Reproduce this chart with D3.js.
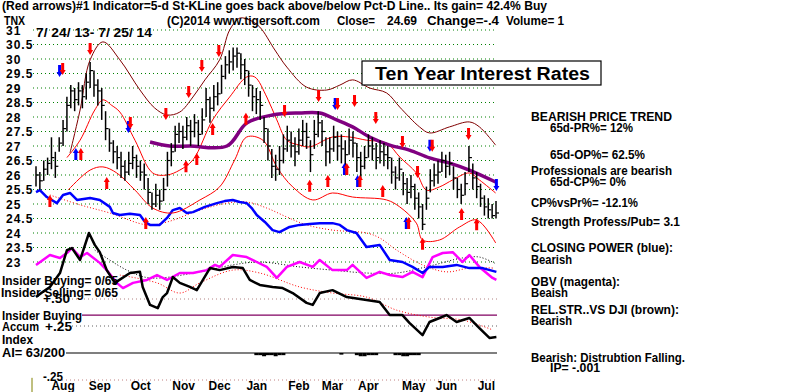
<!DOCTYPE html>
<html>
<head>
<meta charset="utf-8">
<script src="https://cdn.jsdelivr.net/npm/d3@7"></script>
<style>
body { margin: 0; background: #fff; }
text { font-family: "Liberation Sans", Arial, sans-serif; font-weight: bold; font-size: 12px; fill: #000; }
</style>
</head>
<body>
<div id="chart"></div>
<script>
// daily-ish price bars, [high, low, close]
const priceBars = [
  [26.3,25.6,26.0],[26.1,25.5,25.8],[26.5,25.8,26.2],[26.6,26.0,26.4],[27.3,26.2,26.6],
  [26.8,25.9,26.3],[27.3,26.8,27.1],[27.9,27.0,27.6],[28.7,27.5,28.4],[29.1,28.3,28.9],
  [29.0,28.2,28.6],[29.2,28.4,28.9],[29.1,28.3,28.7],[29.5,28.6,29.2],[29.9,29.0,29.6],
  [29.6,28.7,29.1],[29.3,28.4,28.9],[29.0,27.9,28.4],[28.2,27.2,27.6],[27.6,26.8,27.1],
  [27.2,26.4,26.8],[27.0,26.2,26.6],[26.8,25.9,26.3],[26.5,25.8,26.1],[26.8,26.0,26.4],
  [27.0,26.2,26.6],[26.7,25.9,26.3],[26.5,25.8,26.1],[26.4,25.5,26.0],[25.9,25.0,25.4],
  [25.4,24.8,25.0],[25.7,24.9,25.3],[25.5,24.8,25.1],[25.9,25.1,25.5],[26.8,25.6,26.5],
  [27.1,26.3,26.8],[27.7,26.8,27.4],[27.8,27.1,27.5],[27.7,26.9,27.3],[28.0,27.2,27.7],
  [27.9,27.0,27.5],[28.1,27.3,27.8],[27.9,27.0,27.4],[28.3,27.4,27.9],[29.0,28.0,28.6],
  [28.7,27.8,28.3],[29.1,28.2,28.7],[29.2,28.4,28.8],[29.8,28.8,29.4],[30.1,29.3,29.8],
  [30.3,29.5,29.9],[30.4,29.6,30.1],[30.4,29.7,30.2],[30.2,29.3,29.8],[30.0,29.1,29.6],
  [29.6,28.7,29.1],[29.1,28.2,28.7],[29.0,28.1,28.6],[28.9,27.9,28.4],[28.0,27.1,27.6],
  [27.6,26.5,27.0],[26.9,25.9,26.3],[26.7,25.8,26.2],[27.0,26.0,26.5],[27.4,26.4,26.9],
  [27.7,26.8,27.2],[27.5,26.6,27.0],[27.3,26.3,26.8],[27.6,26.7,27.2],[27.9,27.0,27.5],
  [27.8,26.9,27.3],[27.2,26.1,26.7],[27.9,26.9,27.4],[28.2,27.3,27.8],[27.9,27.0,27.5],
  [27.3,26.3,26.8],[27.3,26.4,26.9],[27.7,26.8,27.3],[27.5,26.5,27.0],[27.4,26.4,26.9],
  [27.2,26.2,26.7],[27.6,26.7,27.2],[27.5,26.6,27.1],[27.1,26.1,26.6],[26.8,25.9,26.3],
  [27.0,26.2,26.6],[27.4,26.6,27.0],[27.3,26.5,26.9],[27.1,26.2,26.6],[27.2,26.4,26.8],
  [27.1,26.3,26.7],[27.0,26.2,26.6],[26.6,25.7,26.1],[26.3,25.5,25.9],[26.6,25.8,26.2],
  [26.1,25.3,25.7],[25.9,25.0,25.4],[26.0,25.2,25.6],[25.7,24.8,25.2],[25.4,24.5,24.9],
  [25.0,24.1,24.3],[25.6,24.8,25.2],[26.2,25.4,25.8],[26.4,25.6,26.0],[26.5,25.7,26.1],
  [26.8,26.1,26.5],[26.7,25.9,26.3],[26.8,26.0,26.4],[26.3,25.5,25.9],[25.9,25.2,25.5],
  [25.7,25.0,25.3],[26.1,25.3,25.7],[27.0,26.1,26.6],[26.4,25.5,25.9],[26.1,25.2,25.6],
  [25.7,24.9,25.2],[25.3,24.6,24.9],[25.2,24.5,24.8],[25.0,24.5,24.6],[25.1,24.5,24.69]
];

const gridLevels = d3.range(23, 31.01, 0.5);

// bands, [bar index, level]
const upperOuter = [[8.8,26.76],[11.4,28.24],[14,29.97],[17.3,30.59],[21.7,29.97],[26.9,28.93],[30.7,28.31],
  [33.9,28.07],[37.2,28.17],[40.6,28.69],[43.7,29.28],[47.5,29.97],[50.1,31.0],[52.7,31.41],[55.3,31.34],
  [57.9,31.1],[61.8,30.31],[64.9,29.72],[70,29.03],[75.2,28.93],[78.6,29.1],[81.9,29.28],[86.3,29.0],
  [90.7,28.83],[94.1,28.34],[99.2,27.66],[101.8,27.45],[107,27.66],[112.1,27.83],[114.7,27.66],[118.9,27.03]];
const upperInner = [[8,26.6],[11.4,27.2],[15.2,28.24],[17.3,28.59],[19.6,28.4],[21.7,28.17],[25.6,27.2],
  [30.2,26.07],[33.9,26.0],[37.2,26.17],[40.6,26.52],[45.7,27.9],[50.1,28.69],[54.5,29.38],[56.6,29.38],
  [59.7,28.69],[62.3,27.9],[64.9,27.2],[68.2,27.03],[70.8,26.97],[76.7,27.31],[81.1,27.31],[85.5,27.2],
  [90.7,27.1],[94.1,26.62],[98.4,26.07],[101,25.48],[104.4,25.59],[107.8,25.83],[112.1,26.07],[114.7,25.83],[118.9,25.38]];
const lowerBand = [[8.3,25.48],[14,26.17],[17.3,26.28],[20.9,26.07],[25.6,25.48],[30.2,24.86],[35.4,24.69],
  [42.4,25.14],[47.5,25.59],[51.4,26.52],[54.5,27.31],[58.7,27.2],[62.3,26.28],[66.4,25.59],[71.6,25.14],
  [76.7,25.38],[81.9,25.24],[90.7,25.14],[94.1,24.9],[98.4,24.34],[100,23.76],[104.4,23.76],[109.6,24.21],
  [114,24.45],[118.9,23.66]];
const movingAvg = [[29.5,27.14],[34.6,27.0],[39.8,27.0],[49.4,27.0],[54.5,27.79],[61.2,28.07],[68.2,28.14],
  [73.4,28.14],[77.8,27.9],[81.9,27.66],[86.3,27.31],[91.5,27.03],[96.6,26.86],[101.8,26.59],[107,26.41],
  [112.1,26.17],[118.9,25.76]];

// indicators drawn in price-axis units
const closingPower = [[0,25.41],[1,25.48],[2.8,25.24],[5.4,25.03],[7,25.31],[8.8,25.38],[10.6,25.14],[14,25.21],
  [16.5,25.14],[19.1,24.9],[19.9,24.69],[21.7,24.62],[24.3,24.66],[26.9,24.62],[28.2,24.38],[29.5,24.28],
  [32,24.28],[33.9,24.52],[35.4,24.79],[37.2,24.86],[39,24.69],[40.6,24.72],[43.7,24.9],[46.8,25.03],
  [48.8,25.1],[50.9,25.14],[52.7,25.07],[54.5,25.03],[55.8,24.86],[57.1,24.62],[59.2,24.38],[61.2,24.1],
  [63,24.03],[65.6,24.21],[68.2,24.28],[70.8,24.31],[73.4,24.34],[76.7,24.34],[78.6,24.28],[80.4,24.1],
  [82.9,24.0],[85.5,23.52],[88.9,23.59],[91.5,23.07],[94.8,23.0],[97.4,22.83],[100,22.62],[101.8,22.83],
  [105.2,22.83],[108.8,22.9],[112.1,22.79],[115.5,22.79],[119.1,22.66]];
const cpAvg = [[3.6,25.31],[11.4,24.97],[19.1,24.69],[28.7,24.28],[33.9,24.38],[42.4,24.79],[49.4,25.03],
  [54.5,25.07],[59.7,24.86],[64.9,24.55],[70,24.28],[76.7,24.1],[85.5,24.0],[88.9,23.83],[93.3,23.41],
  [100,22.9],[106.2,22.66],[112.1,22.79],[118.6,22.79]];
const obv = [[0,22.9],[1.8,23.07],[3.6,23.24],[6.2,23.14],[8,23.31],[9.3,23.48],[11.4,23.17],[13.2,23.31],
  [16.5,22.97],[18.3,22.72],[20.9,22.28],[22.5,22.1],[25.1,22.28],[28.7,22.38],[31.3,22.55],[33.9,22.38],
  [37.2,22.62],[40.6,22.62],[44.2,22.72],[46.3,22.9],[47.5,22.83],[50.9,23.24],[54.5,23.17],[57.1,23.0],
  [59.7,22.83],[62.3,22.45],[64.9,22.83],[68.2,23.0],[71.6,22.83],[73.4,23.07],[76.7,22.72],[80.4,22.72],
  [81.9,22.9],[85.5,22.45],[88.9,22.66],[91.5,22.55],[94.8,22.48],[97.4,22.66],[100,22.48],[102.6,23.17],
  [105.2,23.31],[107.8,23.34],[110.3,23.0],[112.1,23.24],[114.7,22.83],[118.1,22.45],[119.1,22.38]];
const obvAvg = [[15.2,23.41],[23.5,22.72],[29.5,22.45],[42.4,22.66],[50.9,22.9],[57.9,23.0],[68.2,22.83],
  [76.7,22.72],[85.5,22.62],[93.3,22.62],[101.8,22.86],[110.3,23.14],[114.7,23.17],[119.1,22.93]];
const relStrength = [[0,21.79],[1.8,21.97],[3.6,22.14],[6.2,22.62],[8,23.41],[9.3,23.48],[11.4,23.07],[13.7,24.0],
  [15.2,23.59],[16.5,23.34],[18.3,22.72],[20.4,22.28],[24.3,22.62],[26.9,22.66],[27.6,22.14],[29.5,21.52],
  [31.5,21.41],[32.8,21.79],[33.9,21.93],[35.4,22.48],[37.2,22.28],[39.8,22.14],[41.6,22.03],[45,22.79],
  [47.5,22.72],[50.9,22.83],[53.5,22.79],[55.3,22.38],[57.9,22.21],[61.2,22.14],[63.8,22.1],[66.4,21.93],
  [70,21.59],[71.6,21.52],[73.4,21.93],[76.7,22.03],[80.4,21.79],[85.5,21.69],[88.9,21.62],[91.5,21.17],
  [94.8,21.17],[96.6,20.9],[100,20.48],[101.8,20.93],[104.4,21.07],[106.2,21.17],[108.8,20.93],[112.1,21.07],
  [114.7,20.72],[117.3,20.38],[119.1,20.41]];
const rsAvg = [[21.7,22.55],[31.3,22.28],[37.2,21.93],[42.4,22.28],[50.9,22.72],[57.9,22.62],[68.2,22.14],
  [76.7,21.93],[85.5,21.79],[93.3,21.34],[101.8,21.1],[110.3,21.0],[118.1,20.66]];

// signal arrows, [bar index, level]
const sellArrows = [[6.9,29.62],[14,30.31],[24.4,27.76],[33.6,28.07],[39.5,28.83],[42.9,29.72],[47.3,30.24],
  [64.3,28.17],[73.1,28.69],[78,28.41],[82.4,28.52],[87.9,27.93],[94.8,27.1],[98.7,26.07],[102.5,26.97],[111.9,27.38]];
const blueSells = [[6.1,29.55],[23.9,27.62],[77.4,28.41],[101.9,26.97],[119.1,25.62]];
const buyArrows = [[3.6,25.14],[11.6,26.76],[18.3,25.76],[28.4,24.38],[38.8,26.34],[41.6,26.59],[45.7,27.62],
  [54.3,27.97],[70.8,25.66],[75.5,25.83],[80.4,26.24],[83.8,25.83],[89.7,25.48],[96.4,24.38],[100,23.66],
  [110.1,24.69],[114,24.34]];
const blueBuys = [[10.3,26.76],[79.8,26.24],[83.2,25.83],[95.8,24.38]];

// accumulation index panel
const aiLevels = [0.5, 0.25, 0, -0.25];
const insiderLevel = 0.35;
const aiDays = [57,58,59,60,61,62,63,64,79,83,84,85,86,87,88,93,94,95,96,97,98,99];
const aiVals = [-0.02,-0.02,-0.03,-0.02,-0.02,-0.03,-0.02,-0.02,-0.015,-0.02,-0.03,-0.03,-0.02,-0.02,-0.02,
  -0.02,-0.02,-0.03,-0.03,-0.02,-0.02,-0.02];

const monthNames = ["Aug","Sep","Oct","Nov","Dec","Jan","Feb","Mar","Apr","May","Jun","Jul"];
const monthPos = [7.0,16.5,27.1,38.2,47.5,57.1,68.0,76.7,86.0,97.7,106.2,116.5];

const sidePanel = [
  ["BEARISH PRICE TREND", 531, 121, 141],
  ["65d-PR%= 12%", 550, 132, 83],
  ["65d-OP%= 62.5%", 550, 159, 95],
  ["Professionals are bearish", 531, 175, 141],
  ["65d-CP%= 0%", 550, 186, 76],
  ["CP%vsPr%= -12.1%", 531, 207, 107],
  ["Strength Profess/Pub= 3.1", 531, 226, 149],
  ["CLOSING POWER (blue):", 531, 252, 142],
  ["Bearish", 531, 264, 41],
  ["OBV (magenta):", 531, 286, 89],
  ["Beaish", 531, 297, 37],
  ["REL.STR..VS DJI (brown):", 531, 314, 148],
  ["Bearish", 531, 325, 41],
  ["Bearish: Distrubtion Falling.", 531, 362, 154],
  ["IP= -.001", 550, 372, 50]
];

const width = 800, height = 392;
const svg = d3.select("#chart").append("svg")
    .attr("width", width)
    .attr("height", height);

const x = d3.scaleLinear().domain([0, priceBars.length - 1]).range([36, 496]);
const y = d3.scaleLinear().domain([23, 31]).range([262, 30]);
const yAI = d3.scaleLinear().domain([-0.25, 0.5]).range([380, 299]);

function label(t, tx, ty, w) {
    const el = svg.append("text").attr("x", tx).attr("y", ty).text(t);
    if (w) el.attr("textLength", w).attr("lengthAdjust", "spacingAndGlyphs");
    return el;
}

// green dotted grid
svg.append("g")
    .selectAll("line")
    .data(gridLevels)
    .join("line")
    .attr("x1", 33).attr("x2", 497)
    .attr("y1", d => y(d)).attr("y2", d => y(d))
    .attr("stroke", "#008000")
    .attr("stroke-dasharray", "1,3");

// price axis labels
svg.append("g")
    .selectAll("text")
    .data(gridLevels)
    .join("text")
    .attr("x", 6)
    .attr("y", d => y(d) + 4.5)
    .style("letter-spacing", "1px")
    .text(d => d % 1 === 0 ? d : d.toFixed(1));

// AI panel reference lines
svg.append("line")
    .attr("x1", 72).attr("x2", 497).attr("y1", yAI(0.5)).attr("y2", yAI(0.5))
    .attr("stroke", "#b08080").attr("stroke-dasharray", "1,3");
svg.append("line")
    .attr("x1", 72).attr("x2", 497).attr("y1", yAI(0.25)).attr("y2", yAI(0.25))
    .attr("stroke", "#606060").attr("stroke-dasharray", "1,3");
svg.append("line")
    .attr("x1", 82).attr("x2", 497).attr("y1", yAI(insiderLevel)).attr("y2", yAI(insiderLevel))
    .attr("stroke", "#800060").attr("stroke-width", 1.2);
svg.append("line")
    .attr("x1", 66).attr("x2", 497).attr("y1", yAI(0)).attr("y2", yAI(0))
    .attr("stroke", "#000").attr("stroke-width", 1.2);
svg.append("line")
    .attr("x1", 62).attr("x2", 497).attr("y1", yAI(-0.25)).attr("y2", yAI(-0.25))
    .attr("stroke", "#c08080").attr("stroke-dasharray", "1,3");
svg.append("line")
    .attr("x1", 32).attr("x2", 32).attr("y1", yAI(-0.23)).attr("y2", 392)
    .attr("stroke", "#808000").attr("stroke-width", 1);

// AI histogram
svg.append("g")
    .selectAll("rect")
    .data(aiDays)
    .join("rect")
    .attr("x", d => x(d) - 2)
    .attr("width", 4)
    .attr("y", yAI(0))
    .attr("height", (d, i) => yAI(aiVals[i]) - yAI(0))
    .attr("fill", "#000");

const line = d3.line().x(d => x(d[0])).y(d => y(d[1]));
const smooth = d3.line().x(d => x(d[0])).y(d => y(d[1])).curve(d3.curveCatmullRom);

function drawLine(data, gen, color, w, dash) {
    const p = svg.append("path")
        .attr("d", gen(data))
        .attr("fill", "none")
        .attr("stroke", color)
        .attr("stroke-width", w)
        .attr("stroke-linejoin", "round");
    if (dash) p.attr("stroke-dasharray", dash);
    return p;
}

// indicator lines
drawLine(obvAvg, smooth, "#000", 1, "1,2");
drawLine(rsAvg, smooth, "#ff0000", 1, "1,2");
drawLine(cpAvg, smooth, "#ff0000", 1, "1,2");
drawLine(obv, line, "#ff00ff", 2.5);
drawLine(relStrength, line, "#000", 2.5);
drawLine(closingPower, line, "#0000ff", 2.5);

// bands and moving average
drawLine(upperOuter, smooth, "#800000", 1);
drawLine(upperInner, smooth, "#ff0000", 1);
drawLine(lowerBand, smooth, "#ff0000", 1);
drawLine(movingAvg, smooth, "#800080", 3.5);

// price bars
const bars = svg.append("g");
bars.selectAll("line.hl")
    .data(priceBars)
    .join("line")
    .attr("class", "hl")
    .attr("x1", (d, i) => x(i)).attr("x2", (d, i) => x(i))
    .attr("y1", d => y(d[0])).attr("y2", d => y(d[1]))
    .attr("stroke", "#000").attr("stroke-width", 1.5);
bars.selectAll("line.cl")
    .data(priceBars)
    .join("line")
    .attr("class", "cl")
    .attr("x1", (d, i) => x(i)).attr("x2", (d, i) => x(i) + 3)
    .attr("y1", d => y(d[2])).attr("y2", d => y(d[2]))
    .attr("stroke", "#000").attr("stroke-width", 1.2);

// arrows
const downArrow = "M-1.5,-7H1.5V0H3L0,5L-3,0H-1.5Z";
const upArrow = "M-1.5,7H1.5V0H3L0,-5L-3,0H-1.5Z";
function drawArrows(data, shape, color) {
    svg.append("g")
        .selectAll("path")
        .data(data)
        .join("path")
        .attr("d", shape)
        .attr("transform", d => `translate(${x(d[0])},${y(d[1])})`)
        .attr("fill", color);
}
drawArrows(blueSells, downArrow, "#0000ff");
drawArrows(sellArrows, downArrow, "#ff0000");
drawArrows(blueBuys, upArrow, "#0000ff");
drawArrows(buyArrows, upArrow, "#ff0000");

// title box
svg.append("rect")
    .attr("x", 362).attr("y", 61).attr("width", 239).attr("height", 24)
    .attr("fill", "#fff").attr("stroke", "#000").attr("stroke-width", 1.2);
label("Ten Year Interest Rates", 375, 80, 215).style("font-size", "18px");

// header
label("(Red arrows)#1 Indicator=5-d St-KLine goes back above/below Pct-D Line.. Its gain= 42.4% Buy", 2, 10, 545);
label("TNX", 4, 25, 21);
label("(C)2014 www.tigersoft.com", 167, 25, 153);
label("Close=", 337, 25, 38);
label("24.69", 387, 25, 30);
label("Change=-.4", 427, 25, 72);
label("Volume= 1", 506, 25, 58);
label("7/ 24/ 13- 7/ 25/ 14", 36, 37, 116);

// lower-left panel text
label("Insider Buying= 0/65", 2, 285, 116);
label("Insider Selling= 0/65", 1, 297, 117);
label("+.50", 43, 303, 27);
label("Insider Buying", 2, 320, 80);
label("Accum", 2, 331, 37);
label("+.25", 45, 331, 27);
label("Index", 2, 344, 31);
label("AI= 63/200", 2, 357, 63);
label("-.25", 43, 381, 20);

// months
svg.append("g")
    .selectAll("text")
    .data(monthNames)
    .join("text")
    .attr("x", (d, i) => x(monthPos[i]))
    .attr("y", 390)
    .attr("text-anchor", "middle")
    .text(d => d);

// right-hand commentary
sidePanel.forEach(r => label(r[0], r[1], r[2], r[3]));
</script>
</body>
</html>
